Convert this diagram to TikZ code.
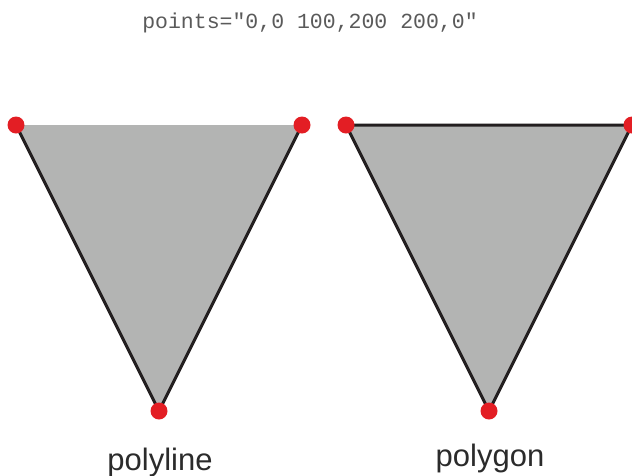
\documentclass[tikz,border=0pt]{standalone}
\usepackage{fontspec}
\setmainfont{Liberation Sans}
\newfontfamily\monofont{Liberation Mono}
\definecolor{fillgray}{HTML}{B3B4B3}
\definecolor{strokedark}{HTML}{231F20}
\definecolor{dotred}{HTML}{E31E24}
\definecolor{codegray}{HTML}{5A5A5A}
\definecolor{labeldark}{HTML}{2B2B2B}
\begin{document}
\begin{tikzpicture}[x=1pt,y=-1pt,
  shapefill/.style={fill=fillgray},
  edge/.style={draw=strokedark,line width=3pt,line join=miter},
  vertexdot/.style={circle,fill=dotred,inner sep=0pt,minimum size=17pt},
  caption/.style={font=\fontsize{31}{31}\selectfont,text=labeldark,anchor=base},
  codetext/.style={font=\monofont\fontsize{21.5}{21.5}\selectfont,text=codegray,anchor=base}]
\useasboundingbox (0,0) rectangle (632,475);
% polyline
\coordinate (a1) at (16,125);
\coordinate (a2) at (159,411);
\coordinate (a3) at (302,125);
\fill[shapefill] (a1) -- (a2) -- (a3) -- cycle;
\draw[edge] (a1) -- (a2) -- (a3);
% polygon
\coordinate (b1) at (346,125);
\coordinate (b2) at (489,411);
\coordinate (b3) at (632,125);
\fill[shapefill] (b1) -- (b2) -- (b3) -- cycle;
\draw[edge] (b1) -- (b2) -- (b3) -- cycle;
% dots
\foreach \p in {a1,a2,a3,b1,b2,b3} \node[vertexdot] at (\p) {};
% texts
\node[codetext] (code) at (310,28) {points="0,0 100,200 200,0"};
\node[caption] (pl) at (160,470) {polyline};
\node[caption] (pg) at (490,466) {polygon};
\end{tikzpicture}
\end{document}
